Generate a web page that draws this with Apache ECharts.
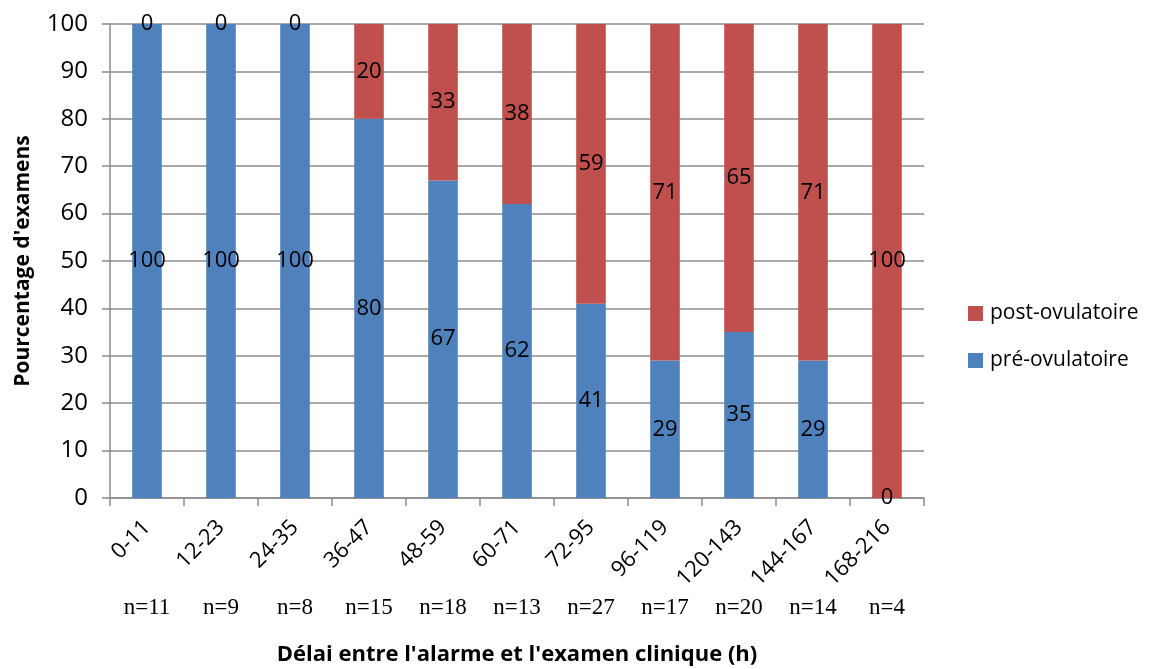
<!DOCTYPE html>
<html>
<head>
<meta charset="utf-8">
<script src="https://cdn.jsdelivr.net/npm/echarts@6/dist/echarts.min.js"></script>
<style>
  html, body { margin: 0; padding: 0; background: #fff; }
  #chart { width: 1154px; height: 669px; }
</style>
</head>
<body>
<div id="chart"></div>
<script>
// Delay between alarm and clinical exam (hours)
const categories = ['0-11', '12-23', '24-35', '36-47', '48-59', '60-71', '72-95', '96-119', '120-143', '144-167', '168-216'];
// Number of exams per delay class
const sampleSizes = ['n=11', 'n=9', 'n=8', 'n=15', 'n=18', 'n=13', 'n=27', 'n=17', 'n=20', 'n=14', 'n=4'];
// Percentages of exams (stacked to 100)
const preOvulatoire = [100, 100, 100, 80, 67, 62, 41, 29, 35, 29, 0];
const postOvulatoire = [0, 0, 0, 20, 33, 38, 59, 71, 65, 71, 100];
const yTicks = { min: 0, max: 100, interval: 10 };

const FONT = '"Open Sans", "Noto Sans", sans-serif';
const gridColor = '#8c8c8c';

const chart = echarts.init(document.getElementById('chart'), null, { renderer: 'canvas' });

const labelStyle = {
  show: true,
  position: 'inside',
  color: '#000',
  fontFamily: FONT,
  fontSize: 22
};

chart.setOption({
  animation: false,
  backgroundColor: '#fff',
  grid: { left: 110, right: 230, top: 24, bottom: 171, containLabel: false, outerBoundsMode: 'none' },
  legend: {
    orient: 'vertical',
    left: 963,
    top: 298,
    itemWidth: 15,
    itemHeight: 15,
    itemGap: 26,
    icon: 'rect',
    textStyle: { fontFamily: FONT, fontSize: 21, color: '#000', padding: [0, 0, 0, 2] },
    data: ['post-ovulatoire', 'pré-ovulatoire']
  },
  xAxis: [
    {
      type: 'category',
      data: categories,
      boundaryGap: true,
      axisLine: { lineStyle: { color: gridColor, width: 1.5 } },
      axisTick: { show: true, length: 8, alignWithLabel: false, lineStyle: { color: gridColor, width: 1.5 } },
      axisLabel: {
        rotate: 45,
        margin: 26,
        interval: 0,
        color: '#000',
        fontFamily: FONT,
        fontSize: 22
      },
      name: "Délai entre l'alarme et l'examen clinique (h)",
      nameLocation: 'middle',
      nameGap: 146,
      nameTextStyle: { fontFamily: FONT, fontSize: 22, fontWeight: 'bold', color: '#000' }
    },
    {
      type: 'category',
      data: sampleSizes,
      position: 'bottom',
      boundaryGap: true,
      axisLine: { show: false },
      axisTick: { show: false },
      axisLabel: {
        interval: 0,
        margin: 98,
        color: '#000',
        fontFamily: '"Liberation Serif", "Times New Roman", serif',
        fontSize: 23
      }
    }
  ],
  yAxis: {
    type: 'value',
    min: yTicks.min,
    max: yTicks.max,
    interval: yTicks.interval,
    axisLine: { show: true, lineStyle: { color: gridColor, width: 1.5 } },
    axisTick: { show: true, length: 8, lineStyle: { color: gridColor, width: 1.5 } },
    splitLine: { show: true, lineStyle: { color: gridColor, width: 1.5 } },
    axisLabel: { color: '#000', fontFamily: FONT, fontSize: 24, margin: 22 },
    name: "Pourcentage d'examens",
    nameLocation: 'middle',
    nameGap: 76,
    nameTextStyle: { fontFamily: FONT, fontSize: 21, fontWeight: 'bold', color: '#000' }
  },
  series: [
    {
      name: 'pré-ovulatoire',
      type: 'bar',
      stack: 'total',
      barWidth: '40%',
      itemStyle: { color: '#4F81BD' },
      label: labelStyle,
      data: preOvulatoire
    },
    {
      name: 'post-ovulatoire',
      type: 'bar',
      stack: 'total',
      barWidth: '40%',
      itemStyle: { color: '#C0504D' },
      label: labelStyle,
      data: postOvulatoire
    }
  ]
});
</script>
</body>
</html>
